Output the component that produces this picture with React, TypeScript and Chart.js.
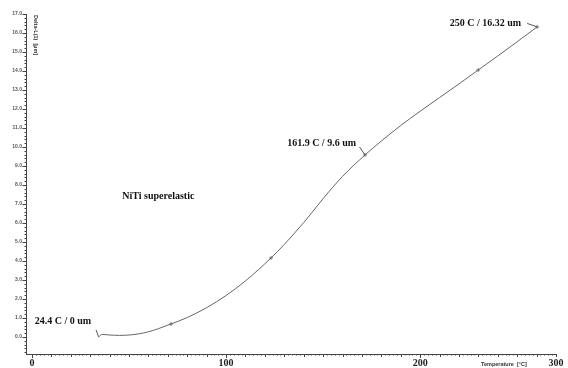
import React, { useEffect, useRef } from 'react';
import { Chart, registerables } from 'chart.js';

Chart.register(...registerables);

// Curve samples (x: axis value, y: Delta-L(1) [µm])
const temperature = [34.3, 36.1, 40, 45, 50, 55, 60, 65, 71.6, 80, 90, 100, 110, 123.2, 130, 140, 147.4, 150, 160, 171.6, 180, 190, 200, 210, 220, 229.9, 240, 250, 260.3];
const deltaL = [0, 0.13, 0.1, 0.08, 0.1, 0.16, 0.27, 0.43, 0.68, 1.02, 1.54, 2.18, 2.95, 4.16, 4.87, 6.02, 6.95, 7.28, 8.45, 9.58, 10.31, 11.13, 11.88, 12.6, 13.32, 14.05, 14.79, 15.54, 16.32];

// Marked points on the curve
const markerTemp = [71.6, 123.2, 171.6, 229.9, 260.3];
const markerDelta = [0.68, 4.16, 9.58, 14.05, 16.32];

// Annotations
const annoText = ['24.4 C / 0 um', '161.9 C / 9.6 um', '250 C / 16.32 um'];
const annoTemp = [34.3, 171.6, 260.3];
const annoDelta = [0, 9.58, 16.32];
const noteText = 'NiTi superelastic';
const noteTemp = 46.5;
const noteDelta = 7.4;

// Axes
const xTickValues = [0, 100, 200, 270];
const xTickLabels = ['0', '100', '200', '300'];
const xMin = -3.1;
const xMax = 270;
const yMin = -0.9;
const yMax = 17;
const xTitle = 'Temperature  [°C]';
const yTitle = 'Delta-L(1)  [µm]';

// label placement relative to the annotated point (pixels)
const annoLayout = [
  { tx: -5.5, ty: -15, lx: -2.5, ly: -7 },
  { tx: -7, ty: -12, lx: -5.5, ly: -8 },
  { tx: -14, ty: -3.5, lx: -10, ly: -3.5 },
];

const overlay = {
  id: 'overlay',
  afterDraw(chart: any) {
    const { ctx, scales } = chart;
    const x = scales.x;
    const y = scales.y;
    const area = chart.chartArea;
    ctx.save();
    ctx.strokeStyle = '#444';
    ctx.lineWidth = 1;
    // x ticks
    ctx.beginPath();
    for (let i = 0; i * 2 <= xMax; i++) {
      const v = i * 2;
      const px = Math.round(x.getPixelForValue(v)) + 0.5;
      const len = v % 100 === 0 ? 4 : v % 10 === 0 ? 3 : 1.5;
      ctx.moveTo(px, area.bottom);
      ctx.lineTo(px, area.bottom + len);
    }
    // y ticks
    for (let i = -4; i * 0.2 <= yMax + 0.001; i++) {
      const v = i * 0.2;
      const py = Math.round(y.getPixelForValue(v)) + 0.5;
      const len = i % 5 === 0 ? 3.5 : 1.5;
      ctx.moveTo(area.left, py);
      ctx.lineTo(area.left - len, py);
    }
    ctx.stroke();

    // annotations
    ctx.fillStyle = '#111';
    ctx.font = 'bold 10px "Liberation Serif"';
    ctx.textAlign = 'right';
    ctx.textBaseline = 'middle';
    ctx.strokeStyle = '#555';
    for (let i = 0; i < annoText.length; i++) {
      const px = x.getPixelForValue(annoTemp[i]);
      const py = y.getPixelForValue(annoDelta[i]);
      const l = annoLayout[i];
      ctx.fillText(annoText[i], px + l.tx - 2, py + l.ty);
      ctx.beginPath();
      ctx.moveTo(px + l.lx, py + l.ly);
      ctx.lineTo(px, py);
      ctx.stroke();
    }
    ctx.textAlign = 'left';
    ctx.fillText(noteText, x.getPixelForValue(noteTemp), y.getPixelForValue(noteDelta));

    // axis titles
    ctx.fillStyle = '#333';
    ctx.font = 'bold 5.5px "Liberation Sans"';
    ctx.textAlign = 'left';
    ctx.fillText(xTitle, area.right - 75, area.bottom + 10);
    ctx.save();
    ctx.translate(area.left + 9.5, area.top + 1);
    ctx.rotate(Math.PI / 2);
    ctx.textBaseline = 'middle';
    ctx.fillText(yTitle, 0, 0);
    ctx.restore();
    ctx.restore();
  },
};

export default function App() {
  const ref = useRef<HTMLCanvasElement | null>(null);
  useEffect(() => {
    if (!ref.current) return;
    const chart = new Chart(ref.current, {
      type: 'line',
      data: {
        datasets: [
          {
            data: temperature.map((t, i) => ({ x: t, y: deltaL[i] })),
            borderColor: '#666',
            borderWidth: 1,
            pointRadius: 0,
            cubicInterpolationMode: 'monotone',
          },
          {
            data: markerTemp.map((t, i) => ({ x: t, y: markerDelta[i] })),
            showLine: false,
            pointStyle: 'cross',
            pointRadius: 2,
            borderColor: '#777',
            borderWidth: 1,
          },
        ],
      },
      options: {
        animation: false,
        responsive: false,
        layout: { padding: { top: 14, right: 12, left: 0, bottom: 0 } },
        plugins: { legend: { display: false }, tooltip: { enabled: false } },
        scales: {
          x: {
            type: 'linear',
            min: xMin,
            max: xMax,
            afterFit: (s: any) => { s.height = 14; },
            afterBuildTicks: (s: any) => { s.ticks = xTickValues.map((v) => ({ value: v })); },
            grid: { display: false, drawTicks: false },
            border: { display: true, color: '#444', width: 1 },
            ticks: {
              padding: 3,
              autoSkip: false,
              maxRotation: 0,
              color: '#222',
              font: { family: 'Liberation Serif', size: 10, weight: 'bold' },
              callback: (v: any) => {
                const idx = xTickValues.indexOf(Number(v));
                return idx >= 0 ? xTickLabels[idx] : '';
              },
            },
          },
          y: {
            type: 'linear',
            min: yMin,
            max: yMax,
            afterFit: (s: any) => { s.width = 26; },
            afterBuildTicks: (s: any) => {
              const t = [];
              for (let v = 0; v <= yMax; v++) t.push({ value: v });
              s.ticks = t;
            },
            grid: { display: false, drawTicks: false },
            border: { display: true, color: '#444', width: 1 },
            ticks: {
              padding: 4,
              color: '#555',
              font: { family: 'Liberation Sans', size: 5, weight: 'bold' },
              callback: (v: any) => Number(v).toFixed(1),
            },
          },
        },
      },
      plugins: [overlay],
    } as any);
    return () => chart.destroy();
  }, []);
  return (
    <div style={{ position: 'fixed', left: 0, top: 0, width: 568, height: 368, background: '#fff' }}>
      <canvas ref={ref} width={568} height={368} />
    </div>
  );
}
